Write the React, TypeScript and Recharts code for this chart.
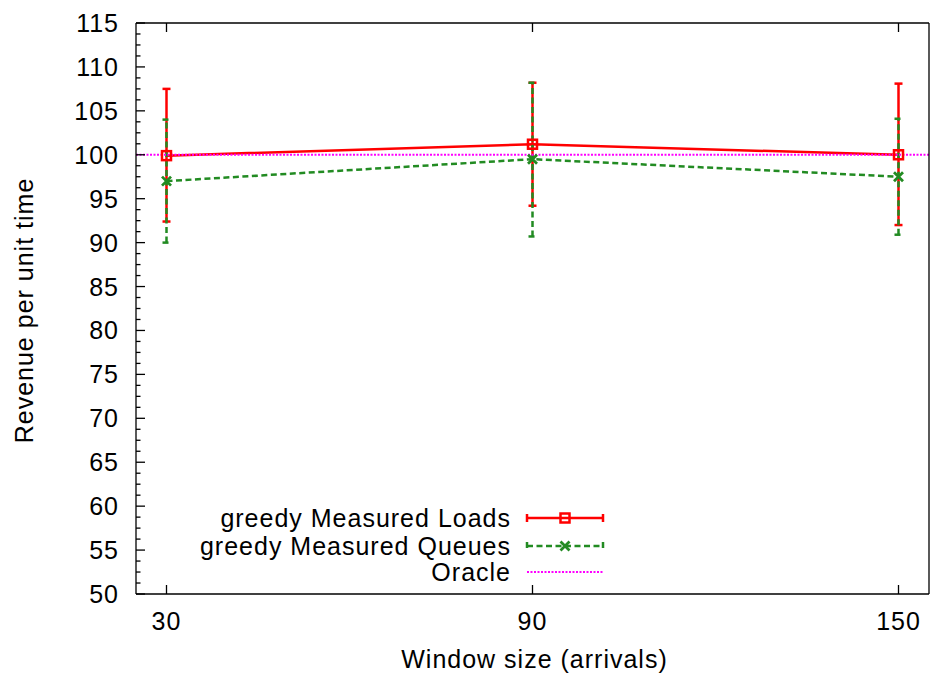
import { ErrorBar, Legend, Line, LineChart, ReferenceLine, XAxis, YAxis } from "recharts";

const windowSizes = [30, 90, 150];
const xTickLabels = [30, 90, 150];
const yTickLabels = [50, 55, 60, 65, 70, 75, 80, 85, 90, 95, 100, 105, 110, 115];

const loadsRevenue = [99.9, 101.2, 100.0];
const loadsLow = [92.4, 94.2, 92.0];
const loadsHigh = [107.5, 108.2, 108.1];

const queuesRevenue = [97.0, 99.5, 97.5];
const queuesLow = [90.0, 90.7, 90.9];
const queuesHigh = [104.0, 108.2, 104.1];

const oracleRevenue = 100;

const legendNames = ["greedy Measured Loads", "greedy Measured Queues", "Oracle"];

const RED = "#ff0000";
const GREEN = "#228b22";
const MAGENTA = "#ff00ff";
const FONT = "'Liberation Sans', Arial, sans-serif";
const FS = 25;
const LS = 1;
const LW = 2.5;
const DASH = "6 3.5";

const data = windowSizes.map((w, i) => ({
  window: w,
  loads: loadsRevenue[i],
  loadsErr: [loadsRevenue[i] - loadsLow[i], loadsHigh[i] - loadsRevenue[i]],
  queues: queuesRevenue[i],
  queuesErr: [queuesRevenue[i] - queuesLow[i], queuesHigh[i] - queuesRevenue[i]],
}));

// gnuplot style: 4 minor intervals between labelled y ticks
const yTicks: number[] = [];
yTickLabels.forEach((v, i) => {
  yTicks.push(v);
  if (i < yTickLabels.length - 1) {
    const step = (yTickLabels[i + 1] - v) / 4;
    for (let k = 1; k < 4; k++) yTicks.push(v + k * step);
  }
});
const isMajor = (v: number) => yTickLabels.includes(v);

const LeftTick = (props: any) => {
  const { x, y, payload } = props;
  const major = isMajor(payload.value);
  return (
    <g>
      <line x1={x} y1={y} x2={x + (major ? 9 : 4.5)} y2={y} stroke="#000" strokeWidth={1.3} />
      {major && (
        <text x={x - 17} y={y} dy={9} textAnchor="end" fontSize={FS} letterSpacing={LS} fill="#000">
          {payload.value}
        </text>
      )}
    </g>
  );
};

const RightTick = (props: any) => {
  const { x, y, payload } = props;
  const major = isMajor(payload.value);
  return <line x1={x} y1={y} x2={x - (major ? 9 : 4.5)} y2={y} stroke="#000" strokeWidth={1.3} />;
};

const BottomTick = (props: any) => {
  const { x, y, payload } = props;
  return (
    <g>
      <line x1={x} y1={y} x2={x} y2={y - 9} stroke="#000" strokeWidth={1.3} />
      <text x={x} y={y + 36} textAnchor="middle" fontSize={FS} letterSpacing={LS} fill="#000">
        {payload.value}
      </text>
    </g>
  );
};

const TopTick = (props: any) => {
  const { x, y } = props;
  return <line x1={x} y1={y} x2={x} y2={y + 9} stroke="#000" strokeWidth={1.3} />;
};

const SquareDot = (p: any) => (
  <rect key={`sq-${p.index}`} x={p.cx - 4.5} y={p.cy - 4.5} width={9} height={9} fill="none" stroke={RED} strokeWidth={LW} />
);

const CrossDot = (p: any) => (
  <path
    key={`x-${p.index}`}
    d={`M${p.cx - 4.5},${p.cy - 4.5}L${p.cx + 4.5},${p.cy + 4.5}M${p.cx - 4.5},${p.cy + 4.5}L${p.cx + 4.5},${p.cy - 4.5}`}
    stroke={GREEN}
    strokeWidth={2.8}
  />
);

const LegendBox = () => {
  const rows = [18, 46, 72];
  const textX = 331;
  const x0 = 347;
  const x1 = 423;
  const xm = 385;
  return (
    <svg width={440} height={90} style={{ fontFamily: FONT }}>
      {legendNames.map((name, i) => (
        <text key={name} x={textX} y={rows[i] + 9} textAnchor="end" fontSize={FS} letterSpacing={LS} fill="#000">
          {name}
        </text>
      ))}
      <g stroke={RED} strokeWidth={LW} fill="none">
        <line x1={x0} y1={rows[0]} x2={x1} y2={rows[0]} />
        <line x1={x0} y1={rows[0] - 4} x2={x0} y2={rows[0] + 4} />
        <line x1={x1} y1={rows[0] - 4} x2={x1} y2={rows[0] + 4} />
        <rect x={xm - 4.5} y={rows[0] - 4.5} width={9} height={9} />
      </g>
      <g stroke={GREEN} strokeWidth={LW} fill="none">
        <line x1={x0} y1={rows[1]} x2={x1} y2={rows[1]} strokeDasharray={DASH} />
        <line x1={x0} y1={rows[1] - 4} x2={x0} y2={rows[1] + 4} strokeDasharray={DASH} />
        <line x1={x1} y1={rows[1] - 4} x2={x1} y2={rows[1] + 4} strokeDasharray={DASH} />
        <path
          d={`M${xm - 4.5},${rows[1] - 4.5}L${xm + 4.5},${rows[1] + 4.5}M${xm - 4.5},${rows[1] + 4.5}L${xm + 4.5},${rows[1] - 4.5}`}
          strokeWidth={2.8}
        />
      </g>
      <line x1={x0} y1={rows[2]} x2={x1} y2={rows[2]} stroke={MAGENTA} strokeWidth={2} strokeDasharray="2 1.5" />
    </svg>
  );
};

const YLabel = (p: any) => {
  const vb = p.viewBox;
  const cx = vb.x + 33;
  const cy = vb.y + vb.height / 2 + 2;
  return (
    <text x={cx} y={cy} transform={`rotate(-90, ${cx}, ${cy})`} textAnchor="middle" fontSize={FS} letterSpacing={LS} fill="#000">
      Revenue per unit time
    </text>
  );
};

const XLabel = (p: any) => {
  const vb = p.viewBox;
  return (
    <text x={vb.x + vb.width / 2 + 2} y={vb.y + 74} textAnchor="middle" fontSize={FS} letterSpacing={LS} fill="#000">
      Window size (arrivals)
    </text>
  );
};

const axisLine = { stroke: "#000", strokeWidth: 1.3 };

export default function App() {
  return (
    <div style={{ position: "absolute", left: 0, top: 0, background: "#fff", fontFamily: FONT }}>
      <LineChart width={930} height={675} data={data} margin={{ top: 22, right: 0, left: 0, bottom: 0 }}>
        <XAxis
          xAxisId="bottom"
          dataKey="window"
          type="number"
          domain={[25, 155]}
          ticks={xTickLabels}
          interval={0}
          height={81}
          tickSize={0}
          tickMargin={0}
          tickLine={false}
          axisLine={axisLine}
          tick={<BottomTick />}
          label={<XLabel />}
        />
        <XAxis
          xAxisId="top"
          orientation="top"
          dataKey="window"
          type="number"
          domain={[25, 155]}
          ticks={xTickLabels}
          interval={0}
          height={1}
          tickSize={0}
          tickMargin={0}
          tickLine={false}
          axisLine={axisLine}
          tick={<TopTick />}
        />
        <YAxis
          yAxisId="left"
          type="number"
          domain={[50, 115]}
          ticks={yTicks}
          interval={0}
          width={136}
          tickSize={0}
          tickMargin={0}
          tickLine={false}
          axisLine={axisLine}
          tick={<LeftTick />}
          label={<YLabel />}
        />
        <YAxis
          yAxisId="right"
          orientation="right"
          type="number"
          domain={[50, 115]}
          ticks={yTicks}
          interval={0}
          width={1}
          tickSize={0}
          tickMargin={0}
          tickLine={false}
          axisLine={axisLine}
          tick={<RightTick />}
        />
        <Line
          xAxisId="bottom"
          yAxisId="left"
          type="linear"
          dataKey="loads"
          stroke={RED}
          strokeWidth={LW}
          dot={SquareDot}
          activeDot={false}
          isAnimationActive={false}
        >
          <ErrorBar dataKey="loadsErr" direction="y" width={4} stroke={RED} strokeWidth={LW} isAnimationActive={false} />
        </Line>
        <Line
          xAxisId="bottom"
          yAxisId="left"
          type="linear"
          dataKey="queues"
          stroke={GREEN}
          strokeWidth={LW}
          strokeDasharray={DASH}
          dot={CrossDot}
          activeDot={false}
          isAnimationActive={false}
        >
          <ErrorBar
            dataKey="queuesErr"
            direction="y"
            width={4}
            stroke={GREEN}
            strokeWidth={LW}
            strokeDasharray={DASH}
            isAnimationActive={false}
          />
        </Line>
        <ReferenceLine xAxisId="bottom" yAxisId="left" y={oracleRevenue} stroke={MAGENTA} strokeWidth={2} strokeDasharray="2 1.5" />
        <Legend
          layout="horizontal"
          verticalAlign="middle"
          align="center"
          wrapperStyle={{ left: 180, top: 500, width: 440, height: 90 }}
          content={() => <LegendBox />}
        />
      </LineChart>
    </div>
  );
}
